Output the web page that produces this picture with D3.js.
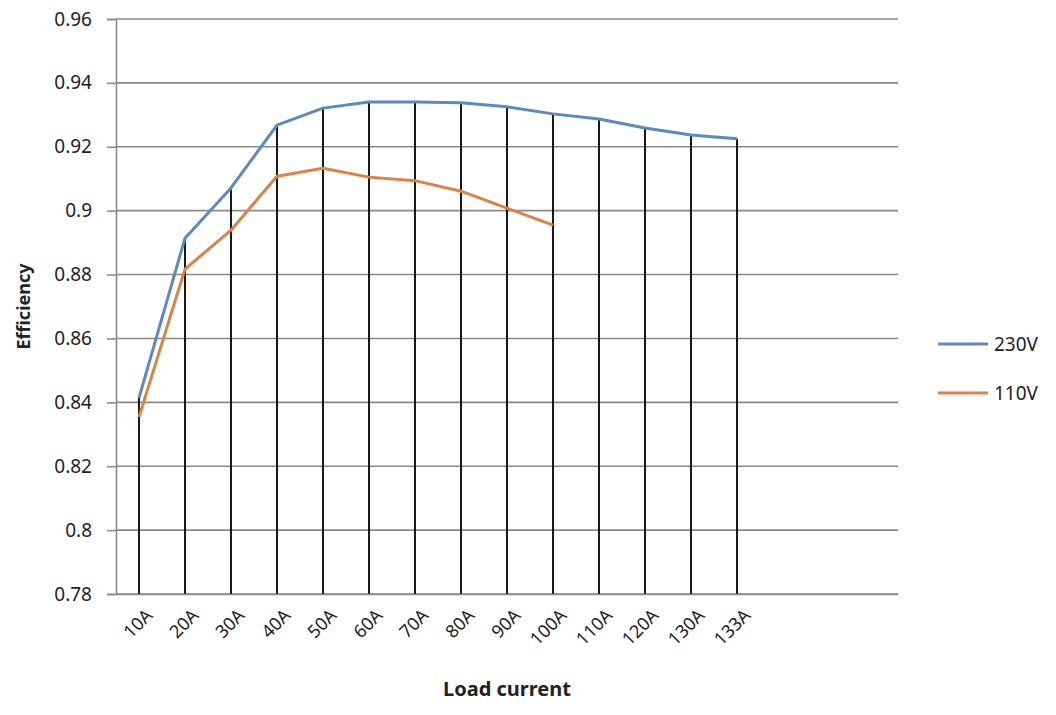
<!DOCTYPE html>
<html>
<head>
<meta charset="utf-8">
<script src="https://cdn.jsdelivr.net/npm/d3@7"></script>
<style>
    body { margin: 0; background: #fff; }
    svg text { font-family: "Noto Sans", "Open Sans", sans-serif; fill: #222; }
</style>
</head>
<body>
<div id="figure"></div>
<script>
// category labels (the source sheet had 3 more blank rows at the end)
var categories = ["10A", "20A", "30A", "40A", "50A", "60A", "70A", "80A", "90A", "100A", "110A", "120A", "130A", "133A"];
var blankRows = 3;

var eff230 = [0.8414, 0.8914, 0.9071, 0.9268, 0.9321, 0.9340, 0.9340, 0.9338, 0.9325, 0.9303, 0.9287, 0.9259, 0.9237, 0.9225];
var eff110 = [0.8354, 0.8817, 0.8939, 0.9108, 0.9133, 0.9105, 0.9094, 0.9061, 0.9008, 0.8955];

var yTicks = [0.78, 0.8, 0.82, 0.84, 0.86, 0.88, 0.9, 0.92, 0.94, 0.96];

var seriesNames = ["230V", "110V"];
var seriesColors = ["#5a8abf", "#dc8246"];

/**
 * 
 * @param {number} v 
 */
function fmt(v) {
    return String(+v.toFixed(2));
}

function drawChart() {
    var svg = d3.select("#figure")
        .append("svg")
        .attr("width", 1056)
        .attr("height", 715);

    var left = 116, right = 898, top = 19, bottom = 594;

    var x = d3.scaleBand()
        .domain(d3.range(categories.length + blankRows))
        .range([left, right]);
    var cx = i => x(i) + x.bandwidth() / 2;

    var y = d3.scaleLinear()
        .domain([yTicks[0], yTicks[yTicks.length - 1]])
        .range([bottom, top]);

    // horizontal gridlines
    svg.append("g")
        .selectAll("line")
        .data(yTicks)
        .join("line")
        .attr("x1", left)
        .attr("x2", right)
        .attr("y1", d => y(d))
        .attr("y2", d => y(d))
        .attr("stroke", "#8a8a8a")
        .attr("stroke-width", 1.6);

    // y axis
    var yAxis = svg.append("g")
        .attr("transform", `translate(${left},0)`)
        .call(d3.axisLeft(y).tickValues(yTicks).tickFormat(fmt).tickSize(9).tickPadding(15));
    yAxis.select(".domain").attr("stroke", "#8a8a8a").attr("stroke-width", 1.6);
    yAxis.selectAll(".tick line").attr("stroke", "#8a8a8a").attr("stroke-width", 1.6);
    yAxis.selectAll(".tick text")
        .attr("font-size", 19)
        .attr("font-family", "Noto Sans")
        .attr("fill", "#222");

    // drop lines from highest point of each category down to the axis
    var tops = categories.map((c, i) => d3.max([eff230[i], eff110[i]].filter(v => v !== undefined)));
    svg.append("g")
        .selectAll("line")
        .data(tops)
        .join("line")
        .attr("x1", (d, i) => cx(i))
        .attr("x2", (d, i) => cx(i))
        .attr("y1", d => y(d))
        .attr("y2", bottom)
        .attr("stroke", "#000")
        .attr("stroke-width", 1.8);

    // x axis line + rotated labels
    var xAxis = svg.append("g")
        .attr("transform", `translate(0,${bottom})`)
        .call(d3.axisBottom(x).tickSize(0).tickFormat(i => categories[i] || ""));
    xAxis.select(".domain").attr("stroke", "#8a8a8a").attr("stroke-width", 1.6);
    xAxis.selectAll(".tick text")
        .attr("font-size", 18)
        .attr("font-family", "Noto Sans")
        .attr("fill", "#222")
        .attr("text-anchor", "end")
        .attr("dy", "0.35em")
        .attr("transform", "translate(8,16) rotate(-45)");

    // series lines
    var line = d3.line()
        .x((d, i) => cx(i))
        .y(d => y(d));
    [eff230, eff110].forEach((s, k) => {
        svg.append("path")
            .datum(s)
            .attr("d", line)
            .attr("fill", "none")
            .attr("stroke", seriesColors[k])
            .attr("stroke-width", 3)
            .attr("stroke-linejoin", "round");
    });

    // axis titles
    svg.append("text")
        .attr("x", (left + right) / 2)
        .attr("y", 696)
        .attr("text-anchor", "middle")
        .attr("font-size", 20)
        .attr("font-weight", "bold")
        .text("Load current");

    svg.append("text")
        .attr("transform", `translate(30,${(top + bottom) / 2}) rotate(-90)`)
        .attr("text-anchor", "middle")
        .attr("font-size", 18)
        .attr("font-weight", "bold")
        .text("Efficiency");

    // legend
    var legend = svg.append("g")
        .selectAll("g")
        .data(seriesNames)
        .join("g")
        .attr("transform", (d, i) => `translate(938,${344 + i * 49})`);
    legend.append("line")
        .attr("x1", 0)
        .attr("x2", 50)
        .attr("stroke", (d, i) => seriesColors[i])
        .attr("stroke-width", 3);
    legend.append("text")
        .attr("x", 56)
        .attr("dy", "0.35em")
        .attr("font-size", 19)
        .text(d => d);
}

drawChart();
</script>
</body>
</html>
